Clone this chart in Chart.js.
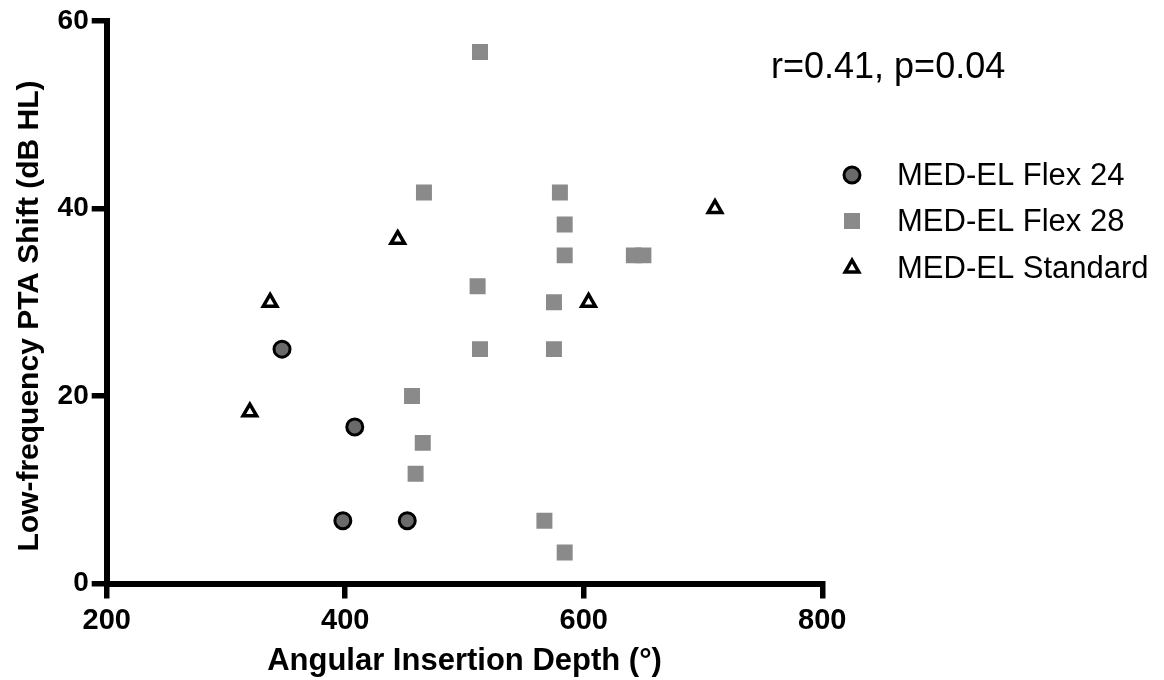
<!DOCTYPE html>
<html>
<head>
<meta charset="utf-8">
<script src="https://cdn.jsdelivr.net/npm/chart.js@4"></script>
<style>
  html, body { margin: 0; padding: 0; background: #ffffff; }
  #wrap { width: 1164px; height: 680px; }
</style>
</head>
<body>
<div id="wrap"><canvas id="c" width="1164" height="680"></canvas></div>
<script>
// ---- data ----
const seriesNames = ["MED-EL Flex 24", "MED-EL Flex 28", "MED-EL Standard"];
const flex24X = [347, 408, 398, 452];
const flex24Y = [25, 16.7, 6.7, 6.7];
const flex28X = [513, 466, 580, 584, 584, 642, 650, 511, 575, 513, 575, 456, 465, 459, 567, 584];
const flex28Y = [56.7, 41.7, 41.7, 38.3, 35, 35, 35, 31.7, 30, 25, 25, 20, 15, 11.7, 6.7, 3.3];
const standardX = [337, 320, 444, 604, 710];
const standardY = [30, 18.3, 36.7, 30, 40];
const xTicks = [200, 400, 600, 800];
const yTicks = [0, 20, 40, 60];
const xTitle = "Angular Insertion Depth (°)";
const yTitle = "Low-frequency PTA Shift (dB HL)";
const statText = "r=0.41, p=0.04";

const FONT = "'Liberation Sans', Arial, Helvetica, sans-serif";
const toPts = (xs, ys) => xs.map((x, i) => ({ x: x, y: ys[i] }));

const styles = [
  { pointStyle: 'circle', radius: 8, bg: '#6a6a6a', border: '#000000', bw: 3 },
  { pointStyle: 'rect', radius: 11.3, bg: '#8a8a8a', border: '#8a8a8a', bw: 0 },
  { pointStyle: 'triangle', radius: 7.8, bg: '#ffffff', border: '#000000', bw: 3.5 }
];
const seriesData = [toPts(flex24X, flex24Y), toPts(flex28X, flex28Y), toPts(standardX, standardY)];

const datasets = seriesNames.map((name, i) => ({
  label: name,
  data: seriesData[i],
  pointStyle: styles[i].pointStyle,
  pointRadius: styles[i].radius,
  pointHoverRadius: styles[i].radius,
  pointBackgroundColor: styles[i].bg,
  pointBorderColor: styles[i].border,
  pointBorderWidth: styles[i].bw,
  showLine: false
}));

function drawMarker(ctx, st, x, y) {
  ctx.save();
  ctx.fillStyle = st.bg;
  ctx.strokeStyle = st.border;
  ctx.lineWidth = st.bw;
  ctx.beginPath();
  if (st.pointStyle === 'circle') {
    ctx.arc(x, y, st.radius, 0, Math.PI * 2);
  } else if (st.pointStyle === 'rect') {
    const s = Math.SQRT1_2 * st.radius;
    ctx.rect(x - s, y - s, 2 * s, 2 * s);
  } else {
    let rad = 0;
    const r = st.radius;
    ctx.moveTo(x + Math.sin(rad) * r, y - Math.cos(rad) * r);
    rad += 2 * Math.PI / 3;
    ctx.lineTo(x + Math.sin(rad) * r, y - Math.cos(rad) * r);
    rad += 2 * Math.PI / 3;
    ctx.lineTo(x + Math.sin(rad) * r, y - Math.cos(rad) * r);
    ctx.closePath();
  }
  ctx.fill();
  if (st.bw > 0) ctx.stroke();
  ctx.restore();
}

const overlay = {
  id: 'overlay',
  afterDraw(chart) {
    const ctx = chart.ctx;
    ctx.save();
    // stat annotation
    ctx.fillStyle = '#000';
    ctx.font = "36px " + FONT;
    ctx.textAlign = 'left';
    ctx.textBaseline = 'alphabetic';
    ctx.fillText(statText, 771, 78);
    // legend
    const rows = [175, 221, 268];
    ctx.font = "31px " + FONT;
    ctx.textBaseline = 'middle';
    seriesNames.forEach((n, i) => {
      drawMarker(ctx, styles[i], 852, rows[i]);
      ctx.fillStyle = '#000';
      ctx.fillText(n, 897, rows[i] + 1);
    });
    // y-axis title
    ctx.save();
    ctx.translate(30, 316);
    ctx.rotate(-Math.PI / 2);
    ctx.textAlign = 'center';
    ctx.textBaseline = 'middle';
    ctx.font = "bold 30px " + FONT;
    ctx.fillText(yTitle, 0, 0);
    ctx.restore();
    ctx.restore();
  }
};

new Chart(document.getElementById('c'), {
  type: 'scatter',
  data: { datasets: datasets },
  options: {
    responsive: false,
    animation: false,
    events: [],
    layout: { padding: { left: 0, right: 341.7, top: 21, bottom: 0 } },
    plugins: { legend: { display: false }, tooltip: { enabled: false } },
    elements: { point: { hitRadius: 0 } },
    scales: {
      x: {
        type: 'linear',
        min: 200, max: 800,
        afterFit(scale) { scale.height = 96.5; },
        afterBuildTicks(scale) { scale.ticks = xTicks.map(v => ({ value: v })); },
        border: { display: true, color: '#000', width: 6 },
        grid: { display: true, drawOnChartArea: false, drawTicks: true, tickLength: 15, lineWidth: 5.5, color: '#000' },
        ticks: { color: '#000', padding: 5, font: { family: FONT, size: 29, weight: 'bold' }, maxRotation: 0 },
        title: { display: true, text: xTitle, color: '#000', padding: { top: 0, bottom: 0 }, font: { family: FONT, size: 31, weight: 'bold' } }
      },
      y: {
        type: 'linear',
        min: 0, max: 60,
        afterFit(scale) { scale.width = 106.7; },
        afterBuildTicks(scale) { scale.ticks = yTicks.map(v => ({ value: v })); },
        border: { display: true, color: '#000', width: 6 },
        grid: { display: true, drawOnChartArea: false, drawTicks: true, tickLength: 15, lineWidth: 5.5, color: '#000' },
        ticks: { color: '#000', padding: 3, font: { family: FONT, size: 28, weight: 'bold' } },
        title: { display: false }
      }
    }
  },
  plugins: [overlay]
});
</script>
</body>
</html>
